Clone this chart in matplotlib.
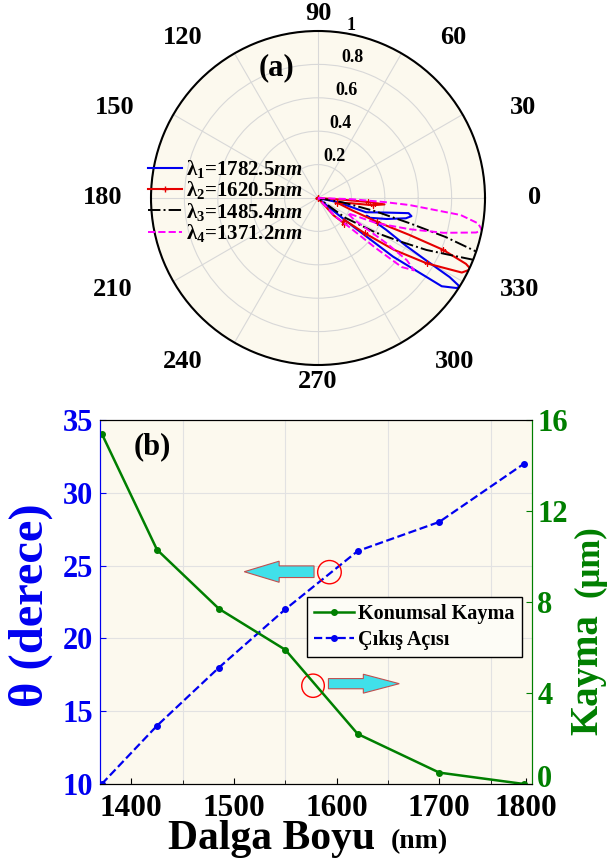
import numpy as np
import matplotlib
matplotlib.use('Agg')
import matplotlib.pyplot as plt
import matplotlib.transforms as mtransforms
from matplotlib.patches import Ellipse

plt.rcParams['font.family'] = ['Liberation Serif', 'DejaVu Serif']
plt.rcParams['font.weight'] = 'bold'
plt.rcParams['mathtext.fontset'] = 'custom'
plt.rcParams['mathtext.rm'] = 'Liberation Serif:bold'
plt.rcParams['mathtext.it'] = 'Liberation Serif:bold:italic'
plt.rcParams['mathtext.bf'] = 'Liberation Serif:bold'

# (b) wavelength sweep
wl = [1371.2, 1425, 1485.4, 1550, 1620.5, 1700, 1782.5]
shift = [15.4, 10.3, 7.7, 5.9, 2.2, 0.5, 0.0]      # Konumsal Kayma (um)
out_angle = [10, 14, 18, 22, 26, 28, 32]           # Cikis Acisi (deg)

# (a) far-field lobes, theta in degrees, normalised radius
th1 = [-44, -40, -39, -38, -35.5, -33, -32, -31, -30, -28.5, -25, -20,
       -21, -17, -13, -11, -9.5, -12, -16.5, -12, -6]
r1 = [0, 0.12, 0.27, 0.57, 0.91, 0.99, 1.0, 0.92, 0.75, 0.6, 0.45, 0.31,
      0.33, 0.43, 0.54, 0.57, 0.55, 0.42, 0.30, 0.12, 0]
th2 = [-3, -4, -4.5, -5.5, -7.5, -9, -14, -20, -22, -22, -22.5, -24, -25,
       -27.4, -31, -34.3, -37, -40, -44, -48, -52]
r2 = [0, 0.15, 0.3, 0.40, 0.33, 0.2, 0.12, 0.22, 0.38, 0.59, 0.81, 0.97, 1.01,
      0.97, 0.76, 0.55, 0.35, 0.2, 0.22, 0.14, 0]
th3 = [-6, -10, -13, -15.4, -17, -18.7, -19.5, -21, -21.5, -23.5, -25.6, -28,
       -31, -36, -42]
r3 = [0, 0.15, 0.35, 0.57, 0.8, 1.0, 1.1, 1.1, 1.02, 0.85, 0.72, 0.55, 0.4,
      0.2, 0]
th4 = [-1, -2, -3.5, -4.4, -6.8, -9, -11, -12.3, -15.5, -18.8, -23.3, -27,
       -31, -33.5, -35, -37, -39.5, -41, -43, -47, -52]
r4 = [0, 0.2, 0.4, 0.55, 0.86, 0.97, 1.0, 0.97, 0.78, 0.58, 0.38, 0.2, 0.25,
      0.5, 0.65, 0.72, 0.65, 0.45, 0.25, 0.15, 0]
lam_labels = [r'$\mathrm{\lambda}_1$=1782.5$\mathit{nm}$',
              r'$\mathrm{\lambda}_2$=1620.5$\mathit{nm}$',
              r'$\mathrm{\lambda}_3$=1485.4$\mathit{nm}$',
              r'$\mathrm{\lambda}_4$=1371.2$\mathit{nm}$']
r_ticks = [0.2, 0.4, 0.6, 0.8, 1.0]
r_tick_labels = ['0.2', '0.4', '0.6', '0.8', '1']

W, H = 610, 866
bg = '#fcf9ee'
blue = '#0000f0'
green = '#007f00'

fig = plt.figure(figsize=(W / 100, H / 100), dpi=100)

# ---------- (a) polar ----------
ax = fig.add_axes([151 / W, 1 - 365 / H, 334 / W, 334 / H], projection='polar')
ax.set_facecolor(bg)
ax.plot(np.deg2rad(th1), r1, color=blue, lw=1.5, label=lam_labels[0])
ax.plot(np.deg2rad(th2), r2, color='#e60000', lw=1.5, marker='+', ms=5,
        markevery=2, label=lam_labels[1])
ax.plot(np.deg2rad(th3), r3, color='black', lw=1.4, ls='-.', label=lam_labels[2])
ax.plot(np.deg2rad(th4), r4, color='#ff00ff', lw=1.4, ls='--', label=lam_labels[3])
ax.set_ylim(0, 1)
ax.set_yticks(r_ticks)
ax.set_yticklabels([])
ax.set_xticks(np.deg2rad(np.arange(0, 360, 30)))
ax.set_xticklabels([])
ax.grid(color='#d8d8d8', lw=0.8)
ax.spines['polar'].set_linewidth(1.5)
for rv, lbl in zip(r_ticks, r_tick_labels):
    ax.text(np.deg2rad(80), rv, lbl, ha='left', va='bottom', fontsize=13)

# angle labels, MATLAB-like placement (pixel centres)
ang_pos = {0: (535, 197), 30: (523, 108), 60: (453, 37), 90: (318, 14),
           120: (183, 38), 150: (115, 107), 180: (103, 197), 210: (113, 290),
           240: (183, 362), 270: (318, 382), 300: (455, 362), 330: (520, 290)}
for a, (px, py) in ang_pos.items():
    fig.text(px / W, 1 - py / H, str(a), ha='center', va='center', fontsize=19)
fig.text(277 / W, 1 - 68 / H, '(a)', ha='center', va='center', fontsize=22)

ax.legend(loc='upper left', bbox_to_anchor=(148 / W, 1 - 158 / H),
          bbox_transform=fig.transFigure, frameon=False, fontsize=15,
          handlelength=1.65, handletextpad=0.15, labelspacing=-0.03,
          borderpad=0, borderaxespad=0)

# ---------- (b) ----------
ax2 = fig.add_axes([100 / W, 1 - 784 / H, 431.7 / W, 364 / H])
ax2.set_facecolor(bg)
l_ang, = ax2.plot(wl, out_angle, '--', color=blue, marker='o', ms=4, lw=1.6,
                  label='Çıkış Açısı')
ax2.set_xlim(1369.5, 1790)
ax2.set_ylim(10, 35)
ax2.set_yticks(np.arange(10, 36, 5))
ax2.set_xticks([1400, 1500, 1600, 1700, 1784], ['1400', '1500', '1600', '1700', '1800'])
ax2.set_xticks(np.arange(1400, 1800, 50), minor=True)
ax2.xaxis.grid(True, which='minor', color='#e2e2e2', lw=0.8)
ax2.xaxis.grid(False, which='major')
ax2.yaxis.grid(True, which='major', color='#e2e2e2', lw=0.8)
ax2.tick_params(axis='y', colors=blue, labelsize=22, direction='in', length=4, pad=5)
ax2.tick_params(axis='x', which='both', direction='in', length=4, labelsize=22.5, pad=7)
ax2.tick_params(axis='x', which='minor', length=3)

ax2r = ax2.twinx()
l_sh, = ax2r.plot(wl, shift, '-', color=green, marker='o', ms=4, lw=1.8,
                  label='Konumsal Kayma')
ax2r.set_ylim(0, 16)
ax2r.set_yticks([0, 4, 8, 12, 16])
ax2r.tick_params(axis='y', colors=green, labelsize=22, direction='in', length=4, pad=4)
# lift the right-hand "0" a little so it clears the "1800" label
t0 = ax2r.yaxis.get_major_ticks()[0]
t0.label2.set_transform(t0.label2.get_transform() +
                        mtransforms.ScaledTranslation(0, 5.5 / 72, fig.dpi_scale_trans))
for a_ in (ax2, ax2r):
    a_.spines['left'].set_color(blue)
    a_.spines['right'].set_color(green)

ax2r.legend([l_sh, l_ang], ['Konumsal Kayma', 'Çıkış Açısı'], loc='upper left',
            bbox_to_anchor=(307 / W, 1 - 597 / H), bbox_transform=fig.transFigure,
            fontsize=14.5, fancybox=False, edgecolor='black', facecolor='#fdfcf6',
            framealpha=1, handlelength=2.0, handletextpad=0.2, borderpad=0.35,
            labelspacing=0.3, borderaxespad=0)

# arrows and circles
ax2.arrow(1578, 24.58, -68, 0, width=0.8, head_width=1.45, head_length=34,
          length_includes_head=True, fc='#40e0ea', ec='#c05050', lw=0.8, zorder=4)
ax2.arrow(1592, 16.89, 69, 0, width=0.7, head_width=1.3, head_length=35,
          length_includes_head=True, fc='#40e0ea', ec='#c05050', lw=0.8, zorder=4)
ax2.add_patch(Ellipse((1593, 24.55), 23, 1.6, fill=False, ec='red', lw=1, zorder=5))
ax2.add_patch(Ellipse((1577, 16.75), 22, 1.6, fill=False, ec='red', lw=1, zorder=5))

fig.text(152 / W, 1 - 447 / H, '(b)', ha='center', va='center', fontsize=22)
fig.text(272 / W, 1 - 849 / H, 'Dalga Boyu', ha='center', va='baseline', fontsize=30)
fig.text(419 / W, 1 - 848 / H, '(nm)', ha='center', va='baseline', fontsize=20)
fig.text(31 / W, 1 - 605 / H, 'θ (derece)', rotation=90, ha='center', va='center',
         color=blue, fontsize=35)
fig.text(588 / W, 1 - 675 / H, 'Kayma', rotation=90, ha='center', va='center',
         color=green, fontsize=28)
fig.text(590 / W, 1 - 561 / H, '(μm)', rotation=90, ha='center', va='center',
         color=green, fontsize=25)

fig.savefig('out.png', dpi=100)
